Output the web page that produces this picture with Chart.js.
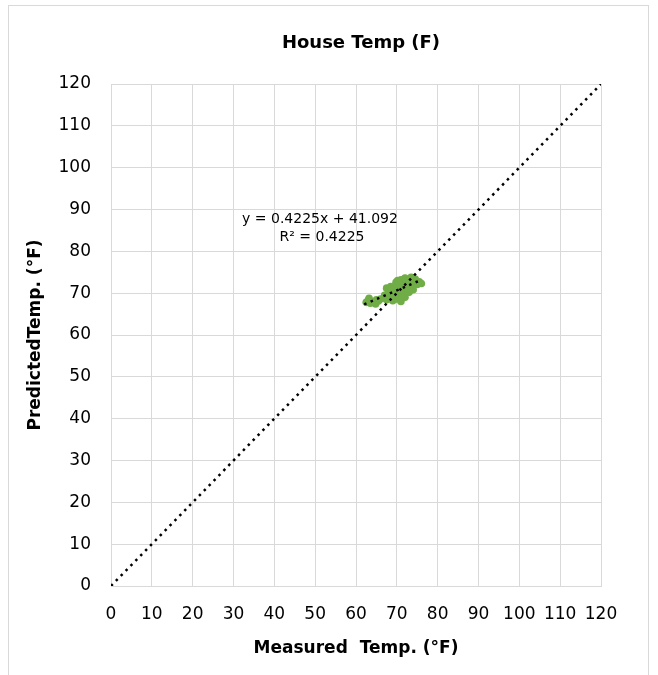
<!DOCTYPE html>
<html>
<head>
<meta charset="utf-8">
<script src="https://cdn.jsdelivr.net/npm/chart.js@4"></script>
<style>
  html, body { margin: 0; padding: 0; background: #fff; }
  #wrap { width: 658px; height: 675px; position: relative; }
</style>
</head>
<body>
<div id="wrap"><canvas id="chart" width="658" height="675"></canvas></div>
<script>
// Measured vs predicted house temperature (F)
const measured = [
  62.5, 63, 63.5, 64, 64.5, 65, 65.5, 66, 63.2, 64.8,
  67, 67.5, 68, 68, 68.5, 69, 69, 69.5, 70, 70, 70, 70.5,
  71, 71, 71, 71.5, 72, 72, 72, 72.5, 73, 73, 73.5, 73.5,
  74, 74, 74.5, 75, 75.5, 76, 69.5, 70.5, 71.5, 72.5, 68.5, 67.5,
  68.8, 69.8, 70.8, 71.8, 72.8, 73.8, 74.8, 70.2, 71.2, 72.2
];
const predicted = [
  67.8, 68.3, 67.6, 68.0, 67.9, 68.4, 68.1, 68.6, 68.8, 67.4,
  69.5, 71.2, 70.4, 68.8, 71.6, 69.8, 68.2, 71.0, 72.3, 70.1, 68.6, 71.5,
  73.2, 69.4, 68.0, 72.0, 70.6, 73.6, 69.0, 71.8, 72.9, 70.2, 73.8, 71.3,
  72.4, 70.8, 73.4, 72.1, 72.7, 72.3, 70.5, 69.2, 70.8, 72.8, 69.4, 68.4,
  70.9, 72.6, 71.9, 69.9, 70.4, 71.0, 72.9, 73.0, 68.9, 72.9
];

// trendline end points (y = 0.4225x + 41.092) and the 1:1 line
const trendX = [62, 76];
const trendY = [67.3, 73.2];
const identX = [0, 120];
const identY = [0, 120];

const axisTicks = [0, 10, 20, 30, 40, 50, 60, 70, 80, 90, 100, 110, 120];

const chartTitle = 'House Temp (F)';
const xTitle = 'Measured  Temp. (°F)';
const yTitle = 'PredictedTemp. (°F)';
const eqLines = ['y = 0.4225x + 41.092', 'R² = 0.4225'];

const FONT = "'DejaVu Sans', sans-serif";

const toPoints = (xs, ys) => xs.map((x, i) => ({ x: x, y: ys[i] }));

// frame, title and trendline label
const extrasPlugin = {
  id: 'extras',
  beforeDraw(chart) {
    const ctx = chart.ctx;
    ctx.save();
    ctx.fillStyle = '#fff';
    ctx.fillRect(0, 0, chart.width, chart.height);
    ctx.strokeStyle = '#d9d9d9';
    ctx.lineWidth = 1;
    ctx.strokeRect(8.5, 5.5, 640, 700);
    ctx.restore();
  },
  afterDraw(chart) {
    const ctx = chart.ctx;
    ctx.save();
    ctx.fillStyle = '#000';
    ctx.textAlign = 'center';
    ctx.textBaseline = 'middle';
    ctx.font = 'bold 18px ' + FONT;
    ctx.fillText(chartTitle, 361, 43);
    ctx.font = '14px ' + FONT;
    ctx.fillText(eqLines[0], 320, 219);
    ctx.fillText(eqLines[1], 322, 237);
    ctx.restore();
  }
};

new Chart(document.getElementById('chart'), {
  type: 'scatter',
  data: {
    datasets: [
      {
        label: 'Identity',
        type: 'line',
        data: toPoints(identX, identY),
        borderColor: '#000',
        borderWidth: 2.5,
        borderDash: [2.5, 4.5],
        pointRadius: 0,
        fill: false,
        order: 0
      },
      {
        label: 'Trend',
        type: 'line',
        data: toPoints(trendX, trendY),
        borderColor: '#000',
        borderWidth: 2.5,
        borderDash: [2.5, 4.5],
        pointRadius: 0,
        fill: false,
        order: 0
      },
      {
        label: 'House Temp',
        data: toPoints(measured, predicted),
        backgroundColor: '#70AD47',
        borderColor: '#70AD47',
        borderWidth: 0,
        pointRadius: 3.8,
        order: 1
      }
    ]
  },
  options: {
    responsive: false,
    animation: false,
    events: [],
    layout: { padding: { left: 0, right: 57, top: 84, bottom: 0 } },
    plugins: {
      legend: { display: false },
      tooltip: { enabled: false }
    },
    scales: {
      x: {
        type: 'linear',
        min: 0,
        max: 120,
        afterFit: (s) => { s.height = 89; },
        afterBuildTicks: (s) => { s.ticks = axisTicks.map(v => ({ value: v })); },
        grid: { color: '#d9d9d9', drawTicks: false },
        border: { color: '#d9d9d9' },
        ticks: { color: '#000', padding: 18, maxRotation: 0, font: { family: FONT, size: 17 } },
        title: {
          display: true,
          text: xTitle,
          color: '#000',
          font: { family: FONT, size: 17, weight: 'bold' },
          padding: { bottom: 16 }
        }
      },
      y: {
        type: 'linear',
        min: 0,
        max: 120,
        afterFit: (s) => { s.width = 111; },
        afterBuildTicks: (s) => { s.ticks = axisTicks.map(v => ({ value: v })); },
        grid: { color: '#d9d9d9', drawTicks: false },
        border: { color: '#d9d9d9' },
        ticks: { color: '#000', padding: 20, font: { family: FONT, size: 17 } },
        title: {
          display: true,
          text: yTitle,
          color: '#000',
          font: { family: FONT, size: 17, weight: 'bold' },
          padding: { top: 25 }
        }
      }
    }
  },
  plugins: [extrasPlugin]
});
</script>
</body>
</html>
